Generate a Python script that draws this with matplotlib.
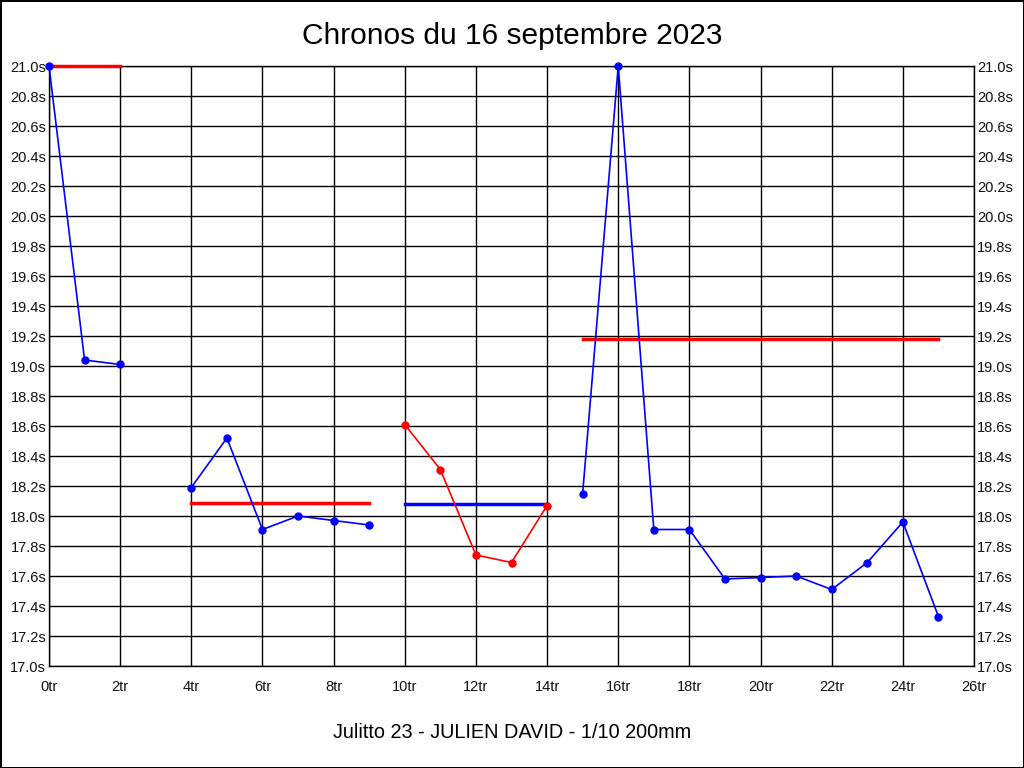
import matplotlib
matplotlib.use("Agg")
import matplotlib.pyplot as plt
import numpy as np

plt.rcParams['font.family'] = ['Liberation Sans', 'DejaVu Sans']

# laps (tr) and times (s), one list per run
laps_1 = [0, 1, 2]
times_1 = [21.0, 19.04, 19.01]
laps_2 = [4, 5, 6, 7, 8, 9]
times_2 = [18.19, 18.52, 17.91, 18.00, 17.97, 17.94]
laps_3 = [10, 11, 12, 13, 14]
times_3 = [18.61, 18.31, 17.74, 17.69, 18.07]
laps_4 = [15, 16, 17, 18, 19, 20, 21, 22, 23, 24, 25]
times_4 = [18.15, 21.0, 17.91, 17.91, 17.58, 17.59, 17.60, 17.51, 17.69, 17.96, 17.33]

# average line per run
avg_1 = 21.0
avg_2 = 18.09
avg_3 = 18.08
avg_4 = 19.18

runs = [
    (laps_1, times_1, avg_1, '#0000ff', '#ff0000'),
    (laps_2, times_2, avg_2, '#0000ff', '#ff0000'),
    (laps_3, times_3, avg_3, '#ff0000', '#0000ff'),
    (laps_4, times_4, avg_4, '#0000ff', '#ff0000'),
]

yticks = np.round(np.arange(17.0, 21.01, 0.2), 1)
xticks = list(range(0, 27, 2))

fig = plt.figure(figsize=(10.24, 7.68), dpi=100)
fig.patch.set_edgecolor('black')
fig.patch.set_linewidth(2)
ax = fig.add_axes([49/1024, 102/768, 925/1024, 600/768])

for laps, times, avg, col, avgcol in runs:
    ax.plot([laps[0], laps[-1]], [avg, avg], color=avgcol, linewidth=2.5,
            zorder=3, clip_on=False)
    ax.plot(laps, times, color=col, linewidth=1.2, marker='o', markersize=5,
            zorder=4, clip_on=False)

ax.set_xlim(0, 26)
ax.set_ylim(17.0, 21.0)
ax.set_xticks(xticks)
ax.set_xticklabels(['%dtr' % t for t in xticks])
ax.set_yticks(yticks)
ax.set_yticklabels(['%.1fs' % t for t in yticks])
ax.tick_params(axis='both', length=0, labelsize=10.5, colors='#111111')
ax.tick_params(axis='y', labelright=True, pad=2)
ax.tick_params(axis='x', pad=10)
ax.grid(True, color='black', linewidth=1)
for s in ax.spines.values():
    s.set_color('black')
    s.set_linewidth(1)

fig.text(0.5, 1 - 36/768, 'Chronos du 16 septembre 2023', ha='center', va='center', fontsize=21.5)
fig.text(0.5, 1 - 733/768, 'Julitto 23 - JULIEN DAVID - 1/10 200mm', ha='center', va='center', fontsize=14.3)

fig.savefig('out.png', dpi=100)
